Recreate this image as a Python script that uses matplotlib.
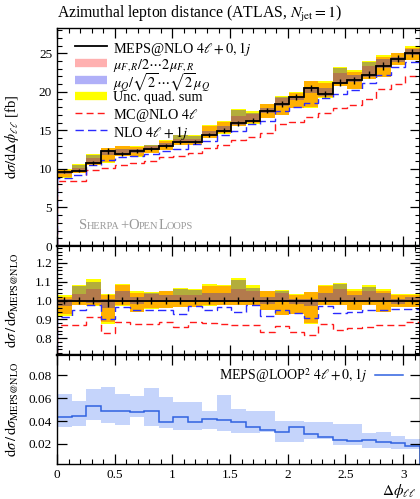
import numpy as np
import matplotlib
matplotlib.use("Agg")
import matplotlib.pyplot as plt
from matplotlib.ticker import MultipleLocator
from matplotlib.offsetbox import TextArea, HPacker, AnchoredOffsetbox
from matplotlib.lines import Line2D

# ── Data (25 bins in delta phi_ll, 0..pi) ────────────────────────────────
N_BINS = 25

meps_nlo = [9.64, 9.75, 10.75, 12.3, 11.93, 12.36, 12.58, 13.0, 13.53, 13.53,
            14.4, 14.96, 15.9, 16.25, 17.55, 18.4, 19.28, 20.45, 19.7, 21.2,
            21.5, 22.2, 23.35, 24.3, 25.0]
stat_rel = [0.02, 0.02, 0.02, 0.035, 0.02, 0.02, 0.02, 0.02, 0.02, 0.02,
            0.02, 0.02, 0.02, 0.02, 0.02, 0.02, 0.02, 0.02, 0.02, 0.02,
            0.02, 0.02, 0.02, 0.02, 0.02]

# ratios to MEPS@NLO
quad_hi = [1.03, 1.084, 1.112, 1.035, 1.09, 1.048, 1.044, 1.053, 1.066, 1.062,
           1.089, 1.084, 1.119, 1.08, 1.05, 1.056, 1.034, 1.046, 1.084, 1.094,
           1.059, 1.08, 1.062, 1.032, 1.036]
quad_lo = [0.92, 0.975, 0.973, 0.876, 0.973, 0.938, 0.956, 0.96, 0.964, 0.964,
           0.973, 0.975, 0.977, 0.977, 0.947, 0.924, 0.929, 0.876, 0.977, 0.977,
           0.947, 0.977, 0.938, 0.964, 0.964]
scale_hi = [1.02, 1.036, 1.06, 1.03, 1.085, 1.04, 1.035, 1.048, 1.03, 1.03,
            1.078, 1.076, 1.06, 1.05, 1.048, 1.04, 1.03, 1.044, 1.075, 1.06,
            1.05, 1.05, 1.05, 1.03, 1.028]
scale_lo = [0.93, 0.977, 0.975, 0.885, 0.975, 0.94, 0.958, 0.962, 0.966, 0.966,
            0.975, 0.977, 0.978, 0.978, 0.948, 0.925, 0.93, 0.88, 0.978, 0.978,
            0.948, 0.978, 0.94, 0.965, 0.965]
resum_hi = [1.01, 1.077, 1.10, 1.01, 1.05, 1.02, 1.04, 1.03, 1.062, 1.058,
            1.04, 1.04, 1.11, 1.065, 1.02, 1.05, 1.01, 1.01, 1.04, 1.086,
            1.03, 1.073, 1.04, 1.01, 1.02]
resum_lo = [0.97, 0.99, 0.985, 0.96, 0.99, 0.98, 0.99, 0.99, 0.99, 0.99,
            0.99, 0.99, 0.99, 0.99, 0.98, 0.99, 0.98, 0.97, 0.99, 0.99,
            0.99, 0.99, 0.99, 0.98, 0.99]
mcnlo_ratio = [0.87, 0.867, 0.911, 0.826, 0.884, 0.876, 0.876, 0.888, 0.861, 0.888,
               0.881, 0.876, 0.867, 0.87, 0.835, 0.863, 0.831, 0.817, 0.876, 0.844,
               0.852, 0.861, 0.87, 0.867, 0.884]
nlo_ratio = [0.91, 0.947, 0.977, 0.902, 0.964, 0.947, 0.95, 0.95, 0.929, 0.973,
             0.95, 0.964, 0.941, 0.977, 0.92, 0.95, 0.932, 0.908, 0.973, 0.932,
             0.941, 0.95, 0.95, 0.956, 0.956]

# MEPS@LOOP^2 / MEPS@NLO
loop2 = [0.0436, 0.0445, 0.0534, 0.0484, 0.049, 0.048, 0.0484, 0.0391, 0.0436, 0.0394,
         0.0415, 0.0406, 0.0391, 0.035, 0.0319, 0.0305, 0.035, 0.0287, 0.0256, 0.0236,
         0.0227, 0.023, 0.022, 0.0206, 0.0185]
loop2_hi = [0.0639, 0.0579, 0.0677, 0.0699, 0.0639, 0.0618, 0.069, 0.0609, 0.057, 0.057,
            0.0489, 0.063, 0.051, 0.0489, 0.0489, 0.040, 0.040, 0.0391, 0.0391, 0.037,
            0.037, 0.0296, 0.030, 0.0265, 0.024]
loop2_lo = [0.0346, 0.0355, 0.0409, 0.0385, 0.0361, 0.0439, 0.0355, 0.034, 0.0325, 0.0325,
            0.0332, 0.031, 0.0296, 0.0296, 0.030, 0.0215, 0.0215, 0.0242, 0.0242, 0.0191,
            0.0191, 0.0162, 0.0162, 0.0155, 0.0153]

# ── Style ────────────────────────────────────────────────────────────────
plt.rcParams["font.family"] = ["Liberation Serif", "DejaVu Serif"]
plt.rcParams["mathtext.fontset"] = "stix"
plt.rcParams["font.size"] = 10

C_YELLOW = "#ffff00"
C_ORANGE = "#ffb000"
C_OLIVE = "#b3ad3c"
C_BROWN = "#b37a4c"
C_PINK = "#ffb0b0"
C_LBLUE = "#b0b0f8"
C_RED = "#ff1a1a"
C_BLUE = "#2a2aff"

edges = np.linspace(0, np.pi, N_BINS + 1)
centers = 0.5 * (edges[:-1] + edges[1:])

meps = np.array(meps_nlo)
qh, ql = np.array(quad_hi), np.array(quad_lo)
sh, sl = np.array(scale_hi), np.array(scale_lo)
rh, rl = np.array(resum_hi), np.array(resum_lo)
oh, ol = np.minimum(sh, rh), np.maximum(sl, rl)
ol = np.minimum(ol, oh)

fig = plt.figure(figsize=(4.2, 4.99), dpi=100)
L, R = 57 / 420, 419.5 / 420
H = 499
ax1 = fig.add_axes([L, 1 - 246 / H, R - L, 218 / H])
ax2 = fig.add_axes([L, 1 - 355 / H, R - L, 109 / H])
ax3 = fig.add_axes([L, 1 - 464.3 / H, R - L, 109.3 / H])


def bands(ax, scale):
    ax.stairs(qh * scale, edges, baseline=ql * scale, fill=True, color=C_YELLOW, lw=0)
    ax.stairs(sh * scale, edges, baseline=sl * scale, fill=True, color=C_ORANGE, lw=0)
    ax.stairs(rh * scale, edges, baseline=rl * scale, fill=True, color=C_OLIVE, lw=0)
    ax.stairs(oh * scale, edges, baseline=ol * scale, fill=True, color=C_BROWN, lw=0)


# ── Top panel ────────────────────────────────────────────────────────────
bands(ax1, meps)
ax1.stairs(meps * np.array(mcnlo_ratio), edges, color=C_RED, lw=1.0, ls=(0, (5, 3)))
ax1.stairs(meps * np.array(nlo_ratio), edges, color=C_BLUE, lw=1.0, ls=(0, (6, 3)))
ax1.stairs(meps, edges, color="black", lw=1.3)
ax1.errorbar(centers, meps, yerr=meps * np.array(stat_rel), fmt="none", ecolor="black", lw=1.0)
ax1.set_ylim(0, 28.27)
ax1.yaxis.set_major_locator(MultipleLocator(5))
ax1.yaxis.set_minor_locator(MultipleLocator(1))
ax1.set_ylabel(r"$\mathrm{d}\sigma/\mathrm{d}\Delta\phi_{\ell\ell}$ [fb]", fontsize=10.5)
ax1.set_title(r"Azimuthal lepton distance (ATLAS, $N_{\mathrm{jet}}=1$)",
              loc="left", fontsize=11.3, pad=7)

# legend drawn by hand, fixed row spacing
leg_styles = [
    dict(color="black", lw=1.3),
    dict(color=C_PINK, lw=6, solid_capstyle="butt"),
    dict(color=C_LBLUE, lw=6, solid_capstyle="butt"),
    dict(color=C_YELLOW, lw=6, solid_capstyle="butt"),
    dict(color=C_RED, lw=1.0, ls=(0, (5, 3))),
    dict(color=C_BLUE, lw=1.0, ls=(0, (6, 3))),
]
labels = [
    r"MEPS@NLO $4\ell+0,1j$",
    r"$\mu_{F,R}/2\cdots 2\mu_{F,R}$",
    r"$\mu_Q/\sqrt{2}\cdots\sqrt{2}\mu_Q$",
    "Unc. quad. sum",
    r"MC@NLO $4\ell$",
    r"NLO $4\ell+1j$",
]
row0, drow = (246 - 46) / 218, 16.8 / 218
for i, (st, lab) in enumerate(zip(leg_styles, labels)):
    yy = row0 - i * drow
    ax1.add_line(Line2D([0.05, 0.138], [yy, yy], transform=ax1.transAxes, **st))
    ax1.text(0.155, yy, lab, transform=ax1.transAxes, fontsize=10.3,
             va="center_baseline", ha="left")

# Sherpa+OpenLoops in small caps
parts = [("S", 10.5), ("HERPA", 7.5), ("+", 10.5), ("O", 10.5), ("PEN", 7.5),
         ("L", 10.5), ("OOPS", 7.5)]
areas = [TextArea(t, textprops=dict(color="#999999", size=s)) for t, s in parts]
box = HPacker(children=areas, align="baseline", pad=0, sep=0)
anch = AnchoredOffsetbox(loc="lower left", child=box, frameon=False,
                         bbox_to_anchor=(0.045, 0.04), bbox_transform=ax1.transAxes,
                         borderpad=0)
ax1.add_artist(anch)

# ── Ratio panel ──────────────────────────────────────────────────────────
bands(ax2, 1.0)
ax2.stairs(mcnlo_ratio, edges, color=C_RED, lw=1.0, ls=(0, (5, 3)))
ax2.stairs(nlo_ratio, edges, color=C_BLUE, lw=1.0, ls=(0, (6, 3)))
ax2.stairs(np.ones(N_BINS), edges, color="black", lw=1.3)
ax2.errorbar(centers, np.ones(N_BINS), yerr=stat_rel, fmt="none", ecolor="black", lw=1.0)
ax2.set_ylim(0.71, 1.29)
ax2.yaxis.set_major_locator(MultipleLocator(0.1))
ax2.yaxis.set_minor_locator(MultipleLocator(0.02))
ax2.yaxis.set_major_formatter(lambda v, p: f"{v:.1f}")
ax2.set_ylabel(r"$\mathrm{d}\sigma\,/\,\mathrm{d}\sigma_{\mathrm{MEPS@NLO}}$", fontsize=10.5)

# ── LOOP^2 panel ─────────────────────────────────────────────────────────
ax3.stairs(loop2_hi, edges, baseline=loop2_lo, fill=True, color="#c5d4fb", lw=0)
ax3.stairs(loop2, edges, color="#2f62e0", lw=1.1)
ax3.set_ylim(0.002, 0.098)
ax3.yaxis.set_major_locator(MultipleLocator(0.02))
ax3.yaxis.set_major_formatter(lambda v, p: f"{v:.2f}")
ax3.set_ylabel(r"$\mathrm{d}\sigma\,/\,\mathrm{d}\sigma_{\mathrm{MEPS@NLO}}$", fontsize=10.5)
ax3.legend([Line2D([], [], color="#2f62e0", lw=1.1)],
           [r"MEPS@LOOP$^2$ $4\ell+0,1j$"], loc="upper right", frameon=False,
           fontsize=10, markerfirst=False, handlelength=2.0, handletextpad=0.6,
           bbox_to_anchor=(0.97, 0.95), borderaxespad=0.0)
ax3.set_xlabel(r"$\Delta\phi_{\ell\ell}$", fontsize=11, ha="right")
ax3.xaxis.set_label_coords(0.993, -0.16)

for ax in (ax1, ax2, ax3):
    ax.set_xlim(0, np.pi)
    ax.xaxis.set_major_locator(MultipleLocator(0.5))
    ax.xaxis.set_minor_locator(MultipleLocator(0.1))
    ax.tick_params(which="both", direction="in", top=True, right=True, labelsize=9.5)
    ax.tick_params(which="major", length=7, width=0.9)
    ax.tick_params(which="minor", length=3.6, width=0.8)
    ax.yaxis.set_label_coords(-0.1, 0.5)
    for s in ax.spines.values():
        s.set_linewidth(1.0)
ax1.tick_params(labelbottom=False)
ax2.tick_params(labelbottom=False)
ax1.spines["bottom"].set_linewidth(1.6)
ax2.spines["top"].set_linewidth(1.6)
ax2.spines["bottom"].set_linewidth(1.6)
ax3.spines["top"].set_linewidth(1.6)
ax3.xaxis.set_major_formatter(lambda v, p: f"{v:g}")

fig.savefig("out.png", dpi=100)
